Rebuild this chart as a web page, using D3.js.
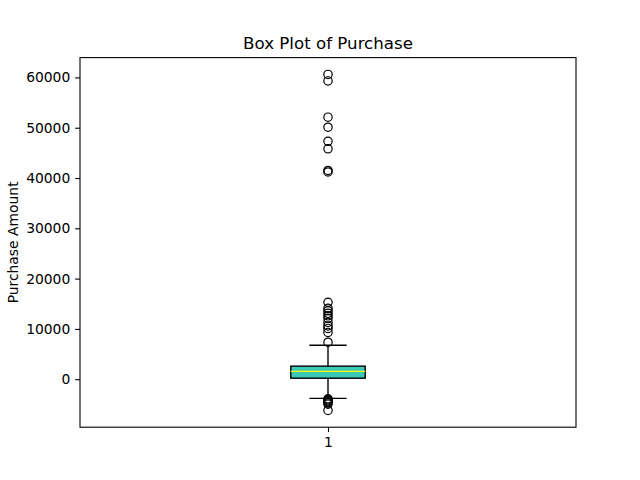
<!DOCTYPE html>
<html><head><meta charset="utf-8">
<script src="https://cdn.jsdelivr.net/npm/d3@7"></script>
<style>body{margin:0;background:#fff}svg{display:block;font-family:"DejaVu Sans",sans-serif}</style>
</head><body>
<script>
// Data
const categories = ["1"];
const boxStats = {q1: 200, median: 1550, q3: 2600, whiskerLow: -3800, whiskerHigh: 6750};
const upperOutliers = [60600, 59300, 52100, 50100, 47300, 45800, 41500, 41200,
  15300, 14100, 13600, 13100, 12600, 12100, 11300, 10600, 10100, 9300, 7350];
const lowerOutliers = [-3900, -4100, -4300, -4500, -4700, -4950, -6200];
const yTicks = [0, 10000, 20000, 30000, 40000, 50000, 60000];

const W = 640, H = 480;
const m = {left: 80, right: 576, top: 57.6, bottom: 427.2};
const svg = d3.select("body").append("svg").attr("width", W).attr("height", H);

const allVals = upperOutliers.concat(lowerOutliers, [boxStats.whiskerLow, boxStats.whiskerHigh]);
const vmax = d3.max(allVals), vmin = d3.min(allVals);
const pad = (vmax - vmin) * 0.05;
const y = d3.scaleLinear().domain([vmin - pad, vmax + pad]).range([m.bottom, m.top]);
const x = d3.scaleLinear().domain([0.5, 1.5]).range([m.left, m.right]);

const lw = 1.39;
const pos = 1, bw = 0.15;
const g = svg.append("g");

// whiskers
g.append("line").attr("x1", x(pos)).attr("x2", x(pos)).attr("y1", y(boxStats.q1)).attr("y2", y(boxStats.whiskerLow)).attr("stroke", "#000").attr("stroke-width", lw);
g.append("line").attr("x1", x(pos)).attr("x2", x(pos)).attr("y1", y(boxStats.q3)).attr("y2", y(boxStats.whiskerHigh)).attr("stroke", "#000").attr("stroke-width", lw);
// caps
[boxStats.whiskerLow, boxStats.whiskerHigh].forEach(v => {
  g.append("line").attr("x1", x(pos - bw / 4)).attr("x2", x(pos + bw / 4)).attr("y1", y(v)).attr("y2", y(v)).attr("stroke", "#000").attr("stroke-width", lw);
});
// box
g.append("rect").attr("x", x(pos - bw / 2)).attr("width", x(pos + bw / 2) - x(pos - bw / 2))
  .attr("y", y(boxStats.q3)).attr("height", y(boxStats.q1) - y(boxStats.q3))
  .attr("fill", "#3cc8b6").attr("stroke", "#000").attr("stroke-width", lw);
// median
g.append("line").attr("x1", x(pos - bw / 2)).attr("x2", x(pos + bw / 2)).attr("y1", y(boxStats.median)).attr("y2", y(boxStats.median)).attr("stroke", "#ffff00").attr("stroke-width", lw);
// outliers
g.selectAll("circle.o").data(upperOutliers.concat(lowerOutliers)).enter().append("circle")
  .attr("cx", x(pos)).attr("cy", d => y(d)).attr("r", 4.17).attr("fill", "none").attr("stroke", "#000").attr("stroke-width", 1.2);

// axes
const yAxis = d3.axisLeft(y).tickValues(yTicks).tickFormat(d3.format("d")).tickSize(4.86).tickPadding(4.86);
const ya = svg.append("g").attr("transform", `translate(${m.left},0)`).call(yAxis);
const xAxis = d3.axisBottom(x).tickValues([1]).tickFormat((d, i) => categories[i]).tickSize(4.86).tickPadding(4.86);
const xa = svg.append("g").attr("transform", `translate(0,${m.bottom})`).call(xAxis);
[ya, xa].forEach(a => {
  a.select(".domain").remove();
  a.selectAll("text").attr("font-size", "13.89px").attr("font-family", "DejaVu Sans").attr("fill", "#000");
  a.selectAll("line").attr("stroke", "#000").attr("stroke-width", 1.1);
});
// frame
svg.append("rect").attr("x", m.left).attr("y", m.top).attr("width", m.right - m.left).attr("height", m.bottom - m.top)
  .attr("fill", "none").attr("stroke", "#000").attr("stroke-width", 1.1);

svg.append("text").attr("x", (m.left + m.right) / 2).attr("y", m.top - 8.3).attr("text-anchor", "middle")
  .attr("font-size", "16.67px").text("Box Plot of Purchase");
svg.append("text").attr("transform", `translate(18,${(m.top + m.bottom) / 2}) rotate(-90)`).attr("text-anchor", "middle")
  .attr("font-size", "13.89px").text("Purchase Amount");
</script>
</body></html>
